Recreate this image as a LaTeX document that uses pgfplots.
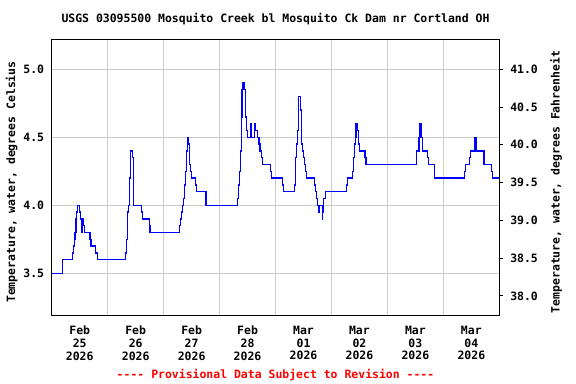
\documentclass[border=0pt]{standalone}
\usepackage{pgfplots}
\pgfplotsset{compat=1.18}
\usepackage{fontspec}
\setmainfont{DejaVu Sans Mono}
\definecolor{gridc}{RGB}{204,204,204}
\definecolor{lineb}{RGB}{0,0,255}
\definecolor{redt}{RGB}{255,0,0}
\pgfplotstableread{
d t
0.000 3.50
0.190 3.60
0.368 3.65
0.386 3.70
0.404 3.75
0.416 3.80
0.434 3.90
0.446 3.95
0.465 4.00
0.494 3.95
0.512 3.90
0.536 3.80
0.541 3.90
0.547 3.85
0.553 3.90
0.565 3.85
0.583 3.80
0.685 3.75
0.702 3.70
0.786 3.65
0.815 3.60
1.316 3.65
1.333 3.75
1.351 3.95
1.369 4.00
1.387 4.20
1.405 4.40
1.441 4.35
1.458 4.00
1.602 3.95
1.620 3.90
1.745 3.85
1.757 3.80
2.281 3.85
2.299 3.90
2.317 3.95
2.334 4.00
2.352 4.05
2.370 4.15
2.388 4.25
2.406 4.40
2.424 4.50
2.449 4.45
2.466 4.30
2.484 4.25
2.502 4.20
2.567 4.15
2.585 4.10
2.758 4.00
3.324 4.05
3.342 4.15
3.360 4.25
3.378 4.40
3.390 4.65
3.401 4.85
3.419 4.90
3.449 4.85
3.460 4.65
3.485 4.55
3.503 4.50
3.562 4.60
3.575 4.50
3.621 4.60
3.646 4.55
3.675 4.50
3.705 4.45
3.723 4.40
3.746 4.35
3.764 4.30
3.907 4.25
3.925 4.20
4.122 4.15
4.139 4.10
4.343 4.15
4.361 4.35
4.379 4.45
4.397 4.55
4.408 4.80
4.450 4.70
4.461 4.45
4.479 4.40
4.497 4.35
4.515 4.30
4.533 4.25
4.551 4.20
4.693 4.15
4.711 4.10
4.729 4.05
4.747 4.00
4.765 3.95
4.777 4.00
4.837 3.90
4.843 3.95
4.855 4.05
4.890 4.10
5.273 4.15
5.290 4.20
5.373 4.25
5.391 4.35
5.409 4.45
5.426 4.50
5.439 4.60
5.469 4.55
5.487 4.45
5.505 4.40
5.595 4.35
5.613 4.30
6.524 4.40
6.565 4.50
6.583 4.60
6.601 4.55
6.607 4.50
6.624 4.40
6.713 4.35
6.731 4.30
6.845 4.20
7.375 4.25
7.393 4.30
7.464 4.35
7.482 4.40
7.565 4.50
7.596 4.40
7.727 4.30
7.864 4.25
7.882 4.20
8.000 4.20
}\datatable
\begin{document}
\begin{tikzpicture}
\pgfplotsset{
  every tick label/.append style={font=\fontsize{8.6}{9.5}\selectfont\bfseries},
}
\begin{axis}[
  name=main,
  at={(0,0)}, anchor=south west,
  scale only axis, width=335.7pt, height=207.5pt,
  xmin=0, xmax=8, ymin=3.186, ymax=5.22,
  axis line style={black, line width=0.75pt},
  xtick={0.5,1.5,...,7.5},
  xticklabels={{Feb\\25\\2026},{Feb\\26\\2026},{Feb\\27\\2026},{Feb\\28\\2026},{Mar\\01\\2026},{Mar\\02\\2026},{Mar\\03\\2026},{Mar\\04\\2026}},
  x tick label style={align=center, anchor=north, inner sep=0pt, yshift=-7.5pt},
  minor xtick={1,2,...,7},
  xminorgrids=true,
  xmajorgrids=false,
  ytick={3.5,4.0,4.5,5.0},
  ymajorgrids=true,
  ytick pos=left,
  xtick pos=bottom,
  major tick length=0pt, minor tick length=0pt,
  grid style={gridc, line width=0.75pt},
  minor grid style={gridc, line width=0.75pt},
  y tick label style={anchor=east, inner sep=0pt, xshift=-5.5pt,
    /pgf/number format/.cd, fixed, fixed zerofill, precision=1, assume math mode=true},
  ylabel={\fontsize{8.6}{9.5}\selectfont\bfseries Temperature, water, degrees Celsius},
  ylabel style={at={(axis description cs:-0.0894,0.484)}, anchor=center, rotate=0},
]
\addplot[const plot mark left, lineb, line width=1.1pt, no marks] table[x=d, y=t] {\datatable};
\end{axis}
\begin{axis}[
  at={(0,0)}, anchor=south west,
  scale only axis, width=335.7pt, height=207.5pt,
  xmin=0, xmax=8, ymin=37.735, ymax=41.396,
  axis x line=none,
  axis y line*=right,
  axis line style={black, line width=0.75pt},
  ytick={38,38.5,39,39.5,40,40.5,41},
  tick align=outside,
  major tick length=3pt,
  tick style={black, line width=0.75pt},
  y tick label style={anchor=west, inner sep=0pt, xshift=5pt,
    /pgf/number format/.cd, fixed, fixed zerofill, precision=1, assume math mode=true},
  ylabel={\fontsize{8.6}{9.5}\selectfont\bfseries Temperature, water, degrees Fahrenheit},
  ylabel style={at={(axis description cs:1.1267,0.484)}, anchor=center, rotate=0},
]
\end{axis}
\node[font=\fontsize{8.6}{9.5}\selectfont\bfseries, inner sep=0pt, anchor=center] at ([yshift=15.5pt]main.north) {USGS 03095500 Mosquito Creek bl Mosquito Ck Dam nr Cortland OH};
\node[text=redt, font=\fontsize{8.6}{9.5}\selectfont\bfseries, inner sep=0pt, anchor=center] at ([yshift=-44.25pt]main.south) {-{}-{}-{}- Provisional Data Subject to Revision -{}-{}-{}-};
\pgfresetboundingbox
\path[use as bounding box] (-38.8pt,-51pt) rectangle (393.2pt,237pt);
\end{tikzpicture}
\end{document}
